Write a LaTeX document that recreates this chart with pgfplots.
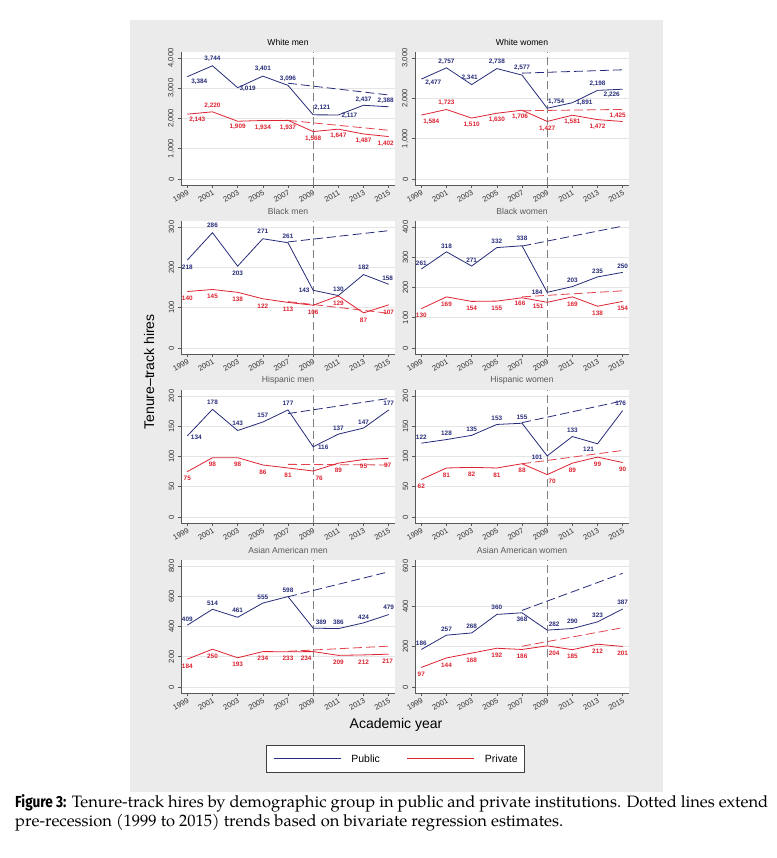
\documentclass[border=0pt]{standalone}
\usepackage{pgfplots}
\pgfplotsset{compat=1.18}
\usepackage{fontspec}
\setmainfont{Liberation Sans}
\newfontfamily\capserif{TeX Gyre Pagella}
\newfontfamily\capsans{Fira Sans}[FakeStretch=0.85]

\definecolor{pubc}{RGB}{38,44,122}
\definecolor{privc}{RGB}{222,34,48}
\definecolor{panelbg}{RGB}{235,235,235}

\pgfplotsset{
  /pgf/number format/assume math mode=true,
  panel/.style={
    scale only axis, width=214pt, height=133pt,
    anchor=south west,
    xmin=1998.5, xmax=2015.5,
    axis x line*=bottom, axis y line*=left,
    axis line style={black!65, line width=0.6pt, -},
    tick style={black!65, line width=0.6pt},
    tick align=outside, major tick length=3pt,
    xtick={1999,2001,...,2015},
    xticklabel style={rotate=30, anchor=north east, inner sep=1pt,
      font=\fontsize{7.6}{8}\selectfont, text=black!80,
      /pgf/number format/1000 sep={}},
    yticklabel style={rotate=90, anchor=south, inner sep=1pt,
      font=\fontsize{7.6}{8}\selectfont, text=black!80,
      /pgf/number format/1000 sep={,}},
    yticklabel shift=2.5pt,
    scaled y ticks=false,
    ymajorgrids, major grid style={black!10, line width=0.8pt},
    axis background/.style={fill=white},
    clip=false, no markers,
    title style={font=\fontsize{8.6}{10}\selectfont, anchor=south,
      at={(0.5,1)}, yshift=-1pt, inner sep=1pt, text=black!65},
  },
  lbl/.style={
    nodes near coords={\pgfmathprintnumber[fixed,precision=0,1000 sep={,}]{\pgfplotspointmeta}},
    point meta=\thisrow{y},
    visualization depends on={value \thisrow{dx}\as\ldx},
    visualization depends on={value \thisrow{dy}\as\ldy},
    every node near coord/.append style={anchor=center, inner sep=0pt,
      xshift=\ldx*1pt, yshift=\ldy*1pt,
      font=\fontsize{6.4}{7}\selectfont\bfseries, text=#1},
  },
  pubs/.style={pubc, line width=0.8pt, lbl=pubc},
  privs/.style={privc, line width=0.8pt, lbl=privc},
  pubd/.style={pubc, line width=0.8pt, dash pattern=on 9pt off 4pt},
  privd/.style={privc!85!white, line width=0.8pt, dash pattern=on 9pt off 4pt},
  refl/.style={black!50, line width=0.7pt, dash pattern=on 8pt off 4pt},
}

\begin{document}
\begin{tikzpicture}
\fill[white] (0,0) rectangle (776pt,858pt);
\fill[panelbg] (130pt,66pt) rectangle (663pt,838pt);
\path[use as bounding box] (0,0) rectangle (776pt,858pt);

% ---- White men
\begin{axis}[panel, at={(181pt,673pt)}, ymin=-200, ymax=4200,
  ytick={0,1000,...,4000}, title={White men}, title style={text=black}]
\addplot[refl] coordinates {(2009,-200) (2009,4200)};
\addplot[pubd] coordinates {(2007,3167) (2015,2778)};
\addplot[privd] coordinates {(2007,1937) (2015,1610)};
\addplot[pubs] table {
x y dx dy
1999 3384 12 -5
2001 3744 0 7
2003 3019 10 -1
2005 3401 0 7
2007 3096 0 7
2009 2121 9 7
2011 2117 11 -1
2013 2437 0 6
2015 2388 -3 6
};
\addplot[privs] table {
x y dx dy
1999 2143 10 -6
2001 2220 0 6
2003 1909 0 -6
2005 1934 0 -7
2007 1937 0 -7
2009 1568 0 -7
2011 1647 0 -7
2013 1487 0 -7
2015 1402 -3 -7
};
\end{axis}

% ---- White women
\begin{axis}[panel, at={(415pt,673pt)}, ymin=-150, ymax=3150,
  ytick={0,1000,...,3000}, title={White women}, title style={text=black}]
\addplot[refl] coordinates {(2009,-150) (2009,3150)};
\addplot[pubd] coordinates {(2007,2625) (2015,2708)};
\addplot[privd] coordinates {(2007,1692) (2015,1725)};
\addplot[pubs] table {
x y dx dy
1999 2477 12 -4
2001 2757 0 6
2003 2341 -2 7
2005 2738 0 7
2007 2577 0 7
2009 1754 9 6
2011 1891 12 0
2013 2198 0 7
2015 2226 -11 -6
};
\addplot[privs] table {
x y dx dy
1999 1584 10 -7
2001 1723 0 7
2003 1510 0 -7
2005 1630 0 -7
2007 1706 -2 -7
2009 1427 0 -7
2011 1581 0 -7
2013 1472 0 -7
2015 1425 -5 6
};
\end{axis}

% ---- Black men
\begin{axis}[panel, at={(181pt,504pt)}, ymin=-15, ymax=315,
  ytick={0,100,...,300}, title={Black men}]
\addplot[refl] coordinates {(2009,-15) (2009,315)};
\addplot[pubd] coordinates {(2007,263) (2015,291)};
\addplot[privd] coordinates {(2007,115) (2015,86)};
\addplot[pubs] table {
x y dx dy
1999 218 0 -7
2001 286 0 7
2003 203 0 -7
2005 271 0 7
2007 261 0 6
2009 143 -9 0
2011 130 0 6
2013 182 0 7
2015 158 -1 6
};
\addplot[privs] table {
x y dx dy
1999 140 0 -7
2001 145 0 -7
2003 138 0 -7
2005 122 0 -7
2007 113 0 -7
2009 106 0 -7
2011 129 0 -7
2013 87 0 -7
2015 107 0 -7
};
\end{axis}

% ---- Black women
\begin{axis}[panel, at={(415pt,504pt)}, ymin=-20, ymax=420,
  ytick={0,100,...,400}, title={Black women}]
\addplot[refl] coordinates {(2009,-20) (2009,420)};
\addplot[pubd] coordinates {(2007,337) (2015,403)};
\addplot[privd] coordinates {(2007,169) (2015,189)};
\addplot[pubs] table {
x y dx dy
1999 261 0 6
2001 318 0 6
2003 271 0 6
2005 332 0 6
2007 338 0 7
2009 184 -10 0
2011 203 0 6
2013 235 0 6
2015 250 0 6
};
\addplot[privs] table {
x y dx dy
1999 130 0 -7
2001 169 0 -7
2003 154 0 -7
2005 155 0 -7
2007 166 -2 -6
2009 151 -9 -4
2011 169 0 -7
2013 138 0 -7
2015 154 0 -7
};
\end{axis}

% ---- Hispanic men
\begin{axis}[panel, at={(181pt,335pt)}, ymin=-10, ymax=210,
  ytick={0,50,...,200}, title={Hispanic men}]
\addplot[refl] coordinates {(2009,-10) (2009,210)};
\addplot[pubd] coordinates {(2007,171) (2015,196)};
\addplot[privd] coordinates {(2007,87) (2015,86)};
\addplot[pubs] table {
x y dx dy
1999 134 9 -1
2001 178 0 7
2003 143 0 7
2005 157 0 7
2007 177 0 7
2009 116 10 0
2011 137 0 6
2013 147 0 6
2015 177 0 7
};
\addplot[privs] table {
x y dx dy
1999 75 0 -7
2001 98 0 -7
2003 98 0 -7
2005 86 0 -7
2007 81 0 -7
2009 76 6 -7
2011 89 0 -7
2013 95 0 -7
2015 97 -1 -7
};
\end{axis}

% ---- Hispanic women
\begin{axis}[panel, at={(415pt,335pt)}, ymin=-10, ymax=210,
  ytick={0,50,...,200}, title={Hispanic women}]
\addplot[refl] coordinates {(2009,-10) (2009,210)};
\addplot[pubd] coordinates {(2007,156) (2015,192)};
\addplot[privd] coordinates {(2007,88) (2015,110)};
\addplot[pubs] table {
x y dx dy
1999 122 0 6
2001 128 0 6
2003 135 0 6
2005 153 0 6
2007 155 0 6
2009 101 -10 -1
2011 133 0 6
2013 121 -9 -5
2015 176 -2 7
};
\addplot[privs] table {
x y dx dy
1999 62 0 -7
2001 81 0 -7
2003 82 0 -7
2005 81 0 -7
2007 88 0 -7
2009 70 5 -7
2011 89 0 -7
2013 99 0 -7
2015 90 0 -7
};
\end{axis}

% ---- Asian American men (carries the shared legend)
\begin{axis}[panel, at={(181pt,165pt)}, ymin=-40, ymax=840,
  ytick={0,200,...,800}, title={Asian American men},
  legend columns=2,
  legend image code/.code={\draw[#1, line width=1pt] (0pt,0pt) -- (67pt,0pt);},
  legend style={at={(1.0023,-0.4962)}, anchor=center,
    draw=black!75, line width=0.6pt, fill=white,
    font=\fontsize{10.5}{12}\selectfont,
    inner xsep=7pt, inner ysep=10pt,
    nodes={inner sep=0pt, text depth=0pt},
    /tikz/every odd column/.append style={column sep=10pt},
    /tikz/every even column/.append style={column sep=27pt}},
  legend cell align=left]
\addplot[refl, forget plot] coordinates {(2009,-40) (2009,840)};
\addplot[pubd, forget plot] coordinates {(2007,597) (2015,762)};
\addplot[privd, forget plot] coordinates {(2007,236) (2015,270)};
\addplot[pubs, forget plot] table {
x y dx dy
1999 409 0 6
2001 514 0 6
2003 461 0 7
2005 555 0 6
2007 598 0 6
2009 389 8 6
2011 386 0 6
2013 424 0 6
2015 479 0 7
};
\addplot[privs, forget plot] table {
x y dx dy
1999 184 0 -7
2001 250 0 -7
2003 193 0 -7
2005 234 0 -7
2007 233 0 -7
2009 234 -7 -7
2011 209 0 -7
2013 212 0 -7
2015 217 -1 -7
};
\addlegendimage{color=pubc}
\addlegendentry{Public}
\addlegendimage{color=privc}
\addlegendentry{Private}
\end{axis}

% ---- Asian American women
\begin{axis}[panel, at={(415pt,165pt)}, ymin=-30, ymax=630,
  ytick={0,200,...,600}, title={Asian American women}]
\addplot[refl] coordinates {(2009,-30) (2009,630)};
\addplot[pubd] coordinates {(2007,380) (2015,564)};
\addplot[privd] coordinates {(2007,202) (2015,294)};
\addplot[pubs] table {
x y dx dy
1999 186 0 6
2001 257 0 6
2003 268 0 7
2005 360 0 7
2007 368 0 -7
2009 282 7 6
2011 290 0 7
2013 323 0 7
2015 387 0 7
};
\addplot[privs] table {
x y dx dy
1999 97 0 -7
2001 144 0 -7
2003 168 0 -7
2005 192 0 -7
2007 186 0 -7
2009 204 7 -7
2011 185 0 -7
2013 212 0 -7
2015 201 0 -7
};
\end{axis}

% shared labels
\node[rotate=90, font=\fontsize{14}{16}\selectfont] at (149pt,486pt) {Tenure–track hires};
\node[font=\fontsize{14}{16}\selectfont] at (396pt,133pt) {Academic year};

% caption
\node[anchor=base west, inner sep=0pt, font=\capserif\fontsize{16.5}{19}\selectfont] at (15pt,50pt)
  {\makebox[753pt][s]{{\capsans\fontsize{16}{19}\selectfont\bfseries Figure 3:} Tenure-track hires by demographic group in public and private institutions. Dotted lines extend}};
\node[anchor=base west, inner sep=0pt, font=\capserif\fontsize{16.5}{19}\selectfont] at (15pt,31pt)
  {pre-recession (1999 to 2015) trends based on bivariate regression estimates.};
\end{tikzpicture}
\end{document}
